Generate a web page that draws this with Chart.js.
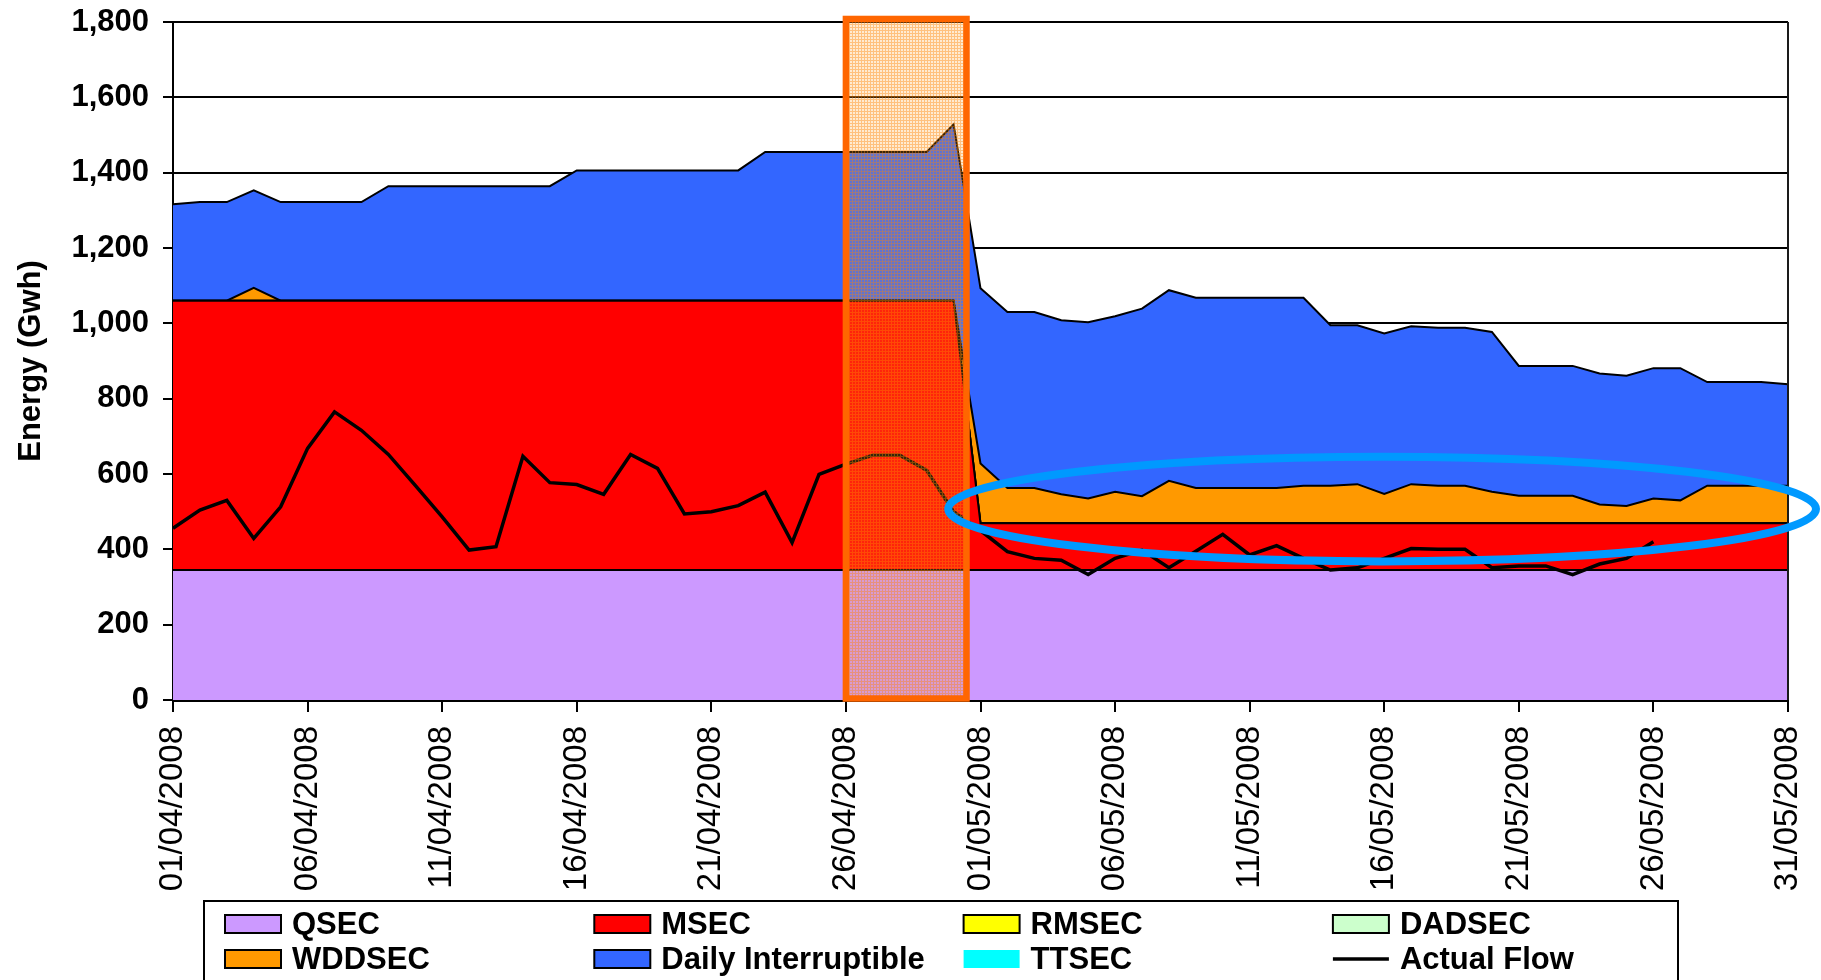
<!DOCTYPE html>
<html>
<head>
<meta charset="utf-8">
<title>Daily energy by capacity type, April–May 2008</title>
<script src="https://cdn.jsdelivr.net/npm/chart.js@4.4.1/dist/chart.umd.min.js"></script>
<style>
  html, body { margin: 0; padding: 0; background: #ffffff; }
  #wrap { width: 1821px; height: 980px; position: relative; }
  canvas { display: block; }
</style>
</head>
<body>
<div id="wrap"><canvas id="chart" width="1821" height="980"></canvas></div>
<script>
// ---- categories: one entry per gas day, 01/04/2008 .. 31/05/2008 ----
const days = [];
for (let m = 4; m <= 5; m++) {
  const last = m === 4 ? 30 : 31;
  for (let d = 1; d <= last; d++) {
    days.push(String(d).padStart(2, '0') + '/' + String(m).padStart(2, '0') + '/2008');
  }
}

// ---- stacked capacity series (GWh) ----
const qsec = [
  345,345,345,345,345,345,345,345,345,345,
  345,345,345,345,345,345,345,345,345,345,
  345,345,345,345,345,345,345,345,345,345,
  345,345,345,345,345,345,345,345,345,345,
  345,345,345,345,345,345,345,345,345,345,
  345,345,345,345,345,345,345,345,345,345,
  345
];
const msec = [
  715,715,715,715,715,715,715,715,715,715,
  715,715,715,715,715,715,715,715,715,715,
  715,715,715,715,715,715,715,715,715,715,
  124,124,124,124,124,124,124,124,124,124,
  124,124,124,124,124,124,124,124,124,124,
  124,124,124,124,124,124,124,124,124,124,
  124
];
const rmsec = [
  0,0,0,0,0,0,0,0,0,0, 0,0,0,0,0,0,0,0,0,0,
  0,0,0,0,0,0,0,0,0,0, 0,0,0,0,0,0,0,0,0,0,
  0,0,0,0,0,0,0,0,0,0, 0,0,0,0,0,0,0,0,0,0,
  0
];
const dadsec = [
  0,0,0,0,0,0,0,0,0,0, 0,0,0,0,0,0,0,0,0,0,
  0,0,0,0,0,0,0,0,0,0, 0,0,0,0,0,0,0,0,0,0,
  0,0,0,0,0,0,0,0,0,0, 0,0,0,0,0,0,0,0,0,0,
  0
];
const wddsec = [
  0,0,0,34,0,0,0,0,0,0,
  0,0,0,0,0,0,0,0,0,0,
  0,0,0,0,0,0,0,0,0,0,
  159,94,94,77,66,84,72,113,94,94,
  94,94,100,100,104,78,104,100,100,84,
  73,73,73,50,46,66,61,100,100,100,
  100
];
const dailyInterruptible = [
  256,262,262,259,262,262,262,262,304,304,
  304,304,304,304,304,346,346,346,346,346,
  346,346,395,395,395,395,395,395,395,468,
  465,467,467,462,468,466,498,506,505,505,
  505,505,499,426,422,426,419,419,419,424,
  345,345,345,348,346,346,351,275,275,275,
  269
];
const ttsec = [
  0,0,0,0,0,0,0,0,0,0, 0,0,0,0,0,0,0,0,0,0,
  0,0,0,0,0,0,0,0,0,0, 0,0,0,0,0,0,0,0,0,0,
  0,0,0,0,0,0,0,0,0,0, 0,0,0,0,0,0,0,0,0,0,
  0
];
// ---- metered flow (GWh), not yet available for the last days of May ----
const actualFlow = [
  456,504,530,429,513,668,765,716,652,570,
  486,398,407,647,577,572,546,652,615,494,
  500,516,552,418,599,626,650,650,610,500,
  450,394,376,371,333,376,398,351,395,440,
  385,410,376,345,351,376,402,400,400,351,
  356,356,333,361,376,420,null,null,null,null,
  null
];

// ---- y-axis tick values ----
const yTicks = [0, 200, 400, 600, 800, 1000, 1200, 1400, 1600, 1800];

// ---- call-outs, in axis units (day index, GWh) ----
const transferWindow = { fromDay: 25, toDay: 29.48, low: 4, high: 1808 };
const mayBandRing = { centreDay: 44.92, centreValue: 507, spanDays: 16.12, spanValue: 139 };

const FONT = "'Liberation Sans', Arial, Helvetica, sans-serif";

function areaSet(label, data, fill, colour, edge) {
  return {
    label, data, fill,
    backgroundColor: colour,
    borderColor: edge ? '#000000' : 'rgba(0,0,0,0)',
    borderWidth: edge ? 2 : 1,
    pointRadius: 0, pointHoverRadius: 0,
    tension: 0, stack: 'capacity',
    legendEdge: edge
  };
}

// fine orange mesh used inside the transfer-window box
function meshPattern(ctx) {
  const c = document.createElement('canvas');
  c.width = 3; c.height = 3;
  const g = c.getContext('2d');
  g.fillStyle = 'rgba(255,165,50,0.22)';
  g.fillRect(0, 0, 3, 3);
  g.fillStyle = 'rgba(255,130,0,0.40)';
  g.fillRect(0, 0, 3, 1);
  g.fillRect(0, 1, 1, 2);
  return ctx.createPattern(c, 'repeat');
}

// keep the plot area where the layout padding puts it (labels may overhang)
function noOverhang(scale) {
  scale.paddingLeft = 0;
  scale.paddingRight = 0;
  scale.paddingTop = 0;
  scale.paddingBottom = 0;
}

const calloutPlugin = {
  id: 'callouts',
  afterDatasetsDraw(chart) {
    const { ctx, chartArea, scales: { x, y } } = chart;
    // right-hand frame of the plot area
    ctx.save();
    ctx.strokeStyle = '#1a1a1a';
    ctx.lineWidth = 2;
    ctx.beginPath();
    ctx.moveTo(chartArea.right, chartArea.top);
    ctx.lineTo(chartArea.right, chartArea.bottom);
    ctx.stroke();

    // transfer window box
    const x0 = x.getPixelForValue(transferWindow.fromDay);
    const x1 = x.getPixelForValue(transferWindow.toDay);
    const y0 = y.getPixelForValue(transferWindow.high);
    const y1 = y.getPixelForValue(transferWindow.low);
    ctx.fillStyle = meshPattern(ctx);
    ctx.fillRect(x0, y0, x1 - x0, y1 - y0);
    ctx.strokeStyle = '#FF6600';
    ctx.lineWidth = 6.5;
    ctx.strokeRect(x0, y0, x1 - x0, y1 - y0);
    ctx.restore();
  },
  afterDraw(chart) {
    const { ctx, scales: { x, y } } = chart;
    ctx.save();
    const cx = x.getPixelForValue(mayBandRing.centreDay);
    const cy = y.getPixelForValue(mayBandRing.centreValue);
    const rx = x.getPixelForValue(mayBandRing.centreDay + mayBandRing.spanDays) - cx;
    const ry = cy - y.getPixelForValue(mayBandRing.centreValue + mayBandRing.spanValue);
    ctx.strokeStyle = '#0099FF';
    ctx.lineWidth = 8;
    ctx.beginPath();
    ctx.ellipse(cx, cy, rx, ry, 0, 0, Math.PI * 2);
    ctx.stroke();
    ctx.restore();
  }
};

// boxed four-column legend under the date labels
const boxedLegend = {
  id: 'boxedLegend',
  afterDraw(chart) {
    const { ctx, chartArea } = chart;
    const top = chart.scales.x.bottom + 1;
    const left = chartArea.left + 31;
    const right = chartArea.right - 110;
    ctx.save();
    ctx.strokeStyle = '#000000';
    ctx.lineWidth = 2;
    ctx.strokeRect(left, top, right - left, 120);

    const colStep = 369.3;
    const rows = [top + 23, top + 58];
    ctx.font = 'bold 31px ' + FONT;
    ctx.textBaseline = 'middle';
    ctx.textAlign = 'left';
    chart.data.datasets.forEach((ds, i) => {
      const col = i % 4, row = Math.floor(i / 4);
      const sx = left + 21 + col * colStep;
      const sy = rows[row];
      if (ds.fill === false) {
        ctx.strokeStyle = ds.borderColor;
        ctx.lineWidth = 3.5;
        ctx.beginPath();
        ctx.moveTo(sx, sy);
        ctx.lineTo(sx + 56, sy);
        ctx.stroke();
      } else {
        ctx.fillStyle = ds.backgroundColor;
        ctx.fillRect(sx, sy - 9, 56, 18);
        if (ds.legendEdge) {
          ctx.strokeStyle = '#000000';
          ctx.lineWidth = 2;
          ctx.strokeRect(sx, sy - 9, 56, 18);
        }
      }
      ctx.fillStyle = '#000000';
      ctx.fillText(ds.label, sx + 67, sy + 1);
    });
    ctx.restore();
  }
};

const chart = new Chart(document.getElementById('chart'), {
  type: 'line',
  data: {
    labels: days,
    datasets: [
      areaSet('QSEC', qsec, 'origin', '#CC99FF', true),
      areaSet('MSEC', msec, '-1', '#FF0000', true),
      areaSet('RMSEC', rmsec, '-1', '#FFFF00', true),
      areaSet('DADSEC', dadsec, '-1', '#CCFFCC', true),
      areaSet('WDDSEC', wddsec, '-1', '#FF9900', true),
      areaSet('Daily Interruptible', dailyInterruptible, '-1', '#3366FF', true),
      areaSet('TTSEC', ttsec, '-1', '#00FFFF', false),
      {
        label: 'Actual Flow', data: actualFlow, fill: false,
        borderColor: '#000000', borderWidth: 3.5, backgroundColor: '#000000',
        pointRadius: 0, pointHoverRadius: 0, tension: 0,
        stack: 'metered', order: -1, spanGaps: false
      }
    ]
  },
  options: {
    responsive: false,
    animation: false,
    devicePixelRatio: 1,
    layout: { padding: { left: 0, right: 33, top: 22, bottom: 80 } },
    plugins: {
      legend: { display: false },
      tooltip: { enabled: false },
      title: { display: false }
    },
    elements: { line: { borderJoinStyle: 'miter' } },
    scales: {
      x: {
        type: 'category',
        offset: false,
        ticks: {
          autoSkip: false, maxRotation: 90, minRotation: 90, padding: 14,
          color: '#000000', font: { family: FONT, size: 33 },
          callback(value, index) { return index % 5 === 0 ? this.getLabelForValue(value) : ''; }
        },
        grid: {
          drawOnChartArea: false, tickLength: 12, lineWidth: 2,
          color: (c) => (c.index % 5 === 0 ? '#000000' : 'rgba(0,0,0,0)')
        },
        border: { color: '#000000', width: 3 },
        afterFit(scale) { scale.height = 200; noOverhang(scale); }
      },
      y: {
        stacked: true,
        min: yTicks[0],
        max: yTicks[yTicks.length - 1],
        afterBuildTicks(scale) { scale.ticks = yTicks.map(v => ({ value: v })); },
        ticks: {
          padding: 14, color: '#000000',
          font: { family: FONT, size: 31, weight: 'bold' },
          callback: (v) => Number(v).toLocaleString('en-US')
        },
        grid: { color: '#000000', lineWidth: 2, tickLength: 10 },
        border: { color: '#000000', width: 2 },
        title: {
          display: true, text: 'Energy (Gwh)', color: '#000000',
          font: { family: FONT, size: 31, weight: 'bold' },
          padding: { top: 13, bottom: 0 }
        },
        afterFit(scale) { scale.width = 173; noOverhang(scale); }
      }
    }
  },
  plugins: [calloutPlugin, boxedLegend]
});
</script>
</body>
</html>
